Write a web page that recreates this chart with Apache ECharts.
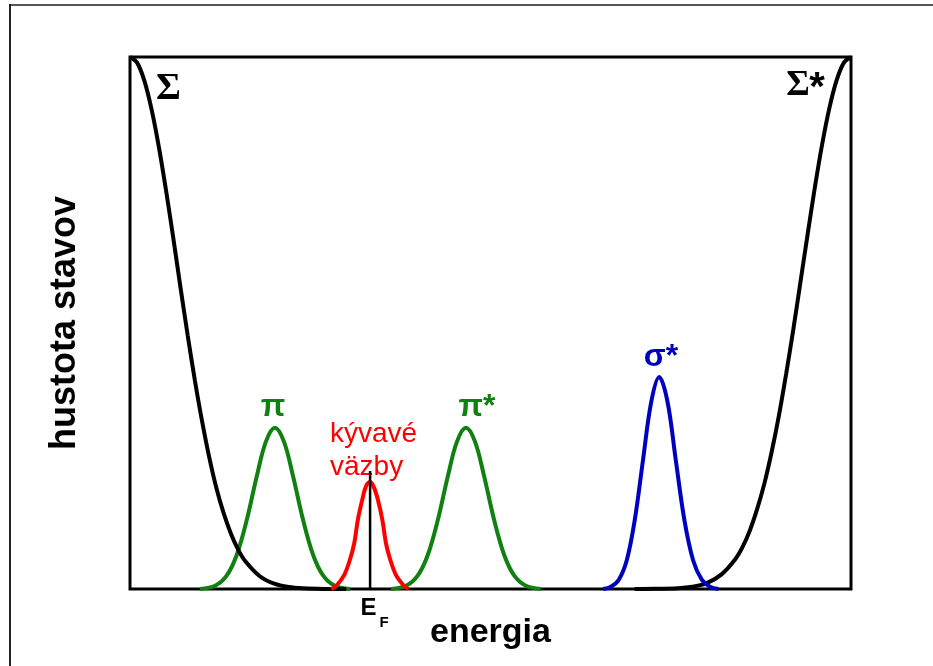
<!DOCTYPE html>
<html>
<head>
<meta charset="utf-8">
<script src="https://cdn.jsdelivr.net/npm/echarts@6/dist/echarts.min.js"></script>
<style>
  html, body { margin: 0; padding: 0; background: #fff; }
  #chart { width: 933px; height: 666px; }
</style>
</head>
<body>
<div id="chart"></div>
<script>
// Energy runs 0..100 (arbitrary units) across the plot, density of states 0..100.

// Σ band (bonding), falls off from the left edge
const sigmaX = [0, 1, 2, 3, 4, 5, 6, 7, 8, 9, 10, 11, 12, 13, 14, 15, 16, 18, 20, 22, 24, 27, 30];
const sigmaY = [100, 98.9, 95.5, 90.1, 83.1, 74.9, 66.0, 56.7, 47.7, 39.2, 31.5, 24.7, 18.9, 14.2, 10.4, 7.4, 5.2, 2.4, 1.0, 0.37, 0.13, 0.02, 0];

// Σ* band (antibonding), rises to the right edge
const sigmaStarX = [70, 73, 76, 78, 80, 82, 84, 85, 86, 87, 88, 89, 90, 91, 92, 93, 94, 95, 96, 97, 98, 99, 100];
const sigmaStarY = [0, 0.03, 0.16, 0.44, 1.1, 2.7, 5.7, 8.0, 11.1, 15.1, 19.9, 25.8, 32.6, 40.4, 48.8, 57.8, 66.8, 75.6, 83.6, 90.4, 95.6, 98.9, 100];

// π band
const piX = [9.7, 11.8, 13.4, 14.8, 16.2, 17.6, 18.85, 20.1, 21.35, 22.6, 24.0, 25.4, 26.8, 28.4, 30.5];
const piY = [0, 0.6, 2.5, 6.4, 13.0, 21.3, 27.7, 30.3, 27.7, 21.3, 13.0, 6.4, 2.5, 0.6, 0];

// π* band
const piStarX = [36.2, 38.3, 39.9, 41.3, 42.7, 44.1, 45.35, 46.6, 47.85, 49.1, 50.5, 51.9, 53.3, 54.9, 57.0];
const piStarY = [0, 0.6, 2.5, 6.4, 13.0, 21.3, 27.7, 30.3, 27.7, 21.3, 13.0, 6.4, 2.5, 0.6, 0];

// dangling bonds at the Fermi level
const danglingX = [27.9, 28.7, 29.7, 30.5, 31.1, 31.6, 32.2, 32.7, 33.3, 33.8, 34.4, 35.0, 35.5, 36.1, 36.9, 37.9, 38.6];
const danglingY = [0, 0.75, 2.6, 5.5, 8.6, 13.0, 16.7, 19.2, 20.1, 19.2, 16.7, 13.0, 8.6, 5.5, 2.6, 0.75, 0];

// σ* band
const sigmaAntiX = [65.6, 66.7, 67.8, 68.9, 70.0, 71.15, 72.3, 73.4, 74.55, 75.7, 76.9, 78.1, 79.3, 80.45, 81.6];
const sigmaAntiY = [0, 0.44, 1.75, 5.4, 12.9, 24.2, 35.2, 39.85, 35.2, 24.2, 12.9, 5.4, 1.75, 0.44, 0];

// Fermi level marker
const fermiX = 33.3;
const fermiTop = 22.2;

function pairs(xs, ys) { return xs.map((x, i) => [x, ys[i]]); }

const chart = echarts.init(document.getElementById('chart'), null, { renderer: 'canvas' });

function curve(name, xs, ys, color, z) {
  return {
    name: name,
    type: 'line',
    data: pairs(xs, ys),
    smooth: 0.35,
    symbol: 'none',
    clip: false,
    z: z,
    lineStyle: { color: color, width: 4 }
  };
}

chart.setOption({
  animation: false,
  backgroundColor: '#ffffff',
  grid: {
    left: 130, top: 57, right: 82, bottom: 77,
    show: true, borderColor: '#000', borderWidth: 3, backgroundColor: 'transparent'
  },
  xAxis: {
    type: 'value', min: 0, max: 100,
    name: 'energia', nameLocation: 'middle', nameGap: 27,
    nameTextStyle: { fontFamily: 'Liberation Sans', fontWeight: 'bold', fontSize: 34, color: '#000' },
    axisLine: { show: false }, axisTick: { show: false }, axisLabel: { show: false }, splitLine: { show: false }
  },
  yAxis: {
    type: 'value', min: 0, max: 100,
    name: 'hustota stavov', nameLocation: 'middle', nameGap: 47,
    nameTextStyle: { fontFamily: 'Liberation Sans', fontWeight: 'bold', fontSize: 36, color: '#000' },
    axisLine: { show: false }, axisTick: { show: false }, axisLabel: { show: false }, splitLine: { show: false }
  },
  series: [
    curve('Σ', sigmaX, sigmaY, '#000000', 3),
    curve('Σ*', sigmaStarX, sigmaStarY, '#000000', 3),
    curve('π', piX, piY, '#108010', 2),
    curve('π*', piStarX, piStarY, '#108010', 2),
    curve('kývavé väzby', danglingX, danglingY, '#ff0000', 4),
    curve('σ*', sigmaAntiX, sigmaAntiY, '#0000c0', 4),
    {
      name: 'EF', type: 'line', symbol: 'none', z: 5,
      data: [[fermiX, 0], [fermiX, fermiTop]],
      lineStyle: { color: '#000', width: 2.5 }
    }
  ],
  graphic: [
    // outer frame
    { type: 'line', shape: { x1: 9, y1: 5, x2: 933, y2: 5 }, style: { stroke: '#555', lineWidth: 2 } },
    { type: 'line', shape: { x1: 10, y1: 4, x2: 10, y2: 666 }, style: { stroke: '#222', lineWidth: 2 } },
    // band labels
    { type: 'text', x: 168.5, y: 89, style: { text: 'Σ', font: 'bold 38px "Liberation Serif"', fill: '#000', align: 'center', verticalAlign: 'middle' } },
    { type: 'text', x: 798, y: 86, style: { text: 'Σ', font: 'bold 36px "Liberation Serif"', fill: '#000', align: 'center', verticalAlign: 'middle' } },
    { type: 'text', x: 817, y: 89, style: { text: '*', font: 'bold 40px "Liberation Sans"', fill: '#000', align: 'center', verticalAlign: 'middle' } },
    { type: 'text', x: 273, y: 407, style: { text: 'π', font: 'bold 32px "Liberation Sans"', fill: '#108010', align: 'center', verticalAlign: 'middle' } },
    { type: 'text', x: 477, y: 407, style: { text: 'π*', font: 'bold 32px "Liberation Sans"', fill: '#108010', align: 'center', verticalAlign: 'middle' } },
    { type: 'text', x: 661, y: 357, style: { text: 'σ*', font: 'bold 32px "Liberation Sans"', fill: '#0000c0', align: 'center', verticalAlign: 'middle' } },
    { type: 'text', x: 330, y: 420, style: { text: 'kývavé', font: '28px "Liberation Sans"', fill: '#ff0000', align: 'left', verticalAlign: 'alphabetic' } },
    { type: 'text', x: 330, y: 453, style: { text: 'väzby', font: '28px "Liberation Sans"', fill: '#ff0000', align: 'left', verticalAlign: 'alphabetic' } },
    { type: 'text', x: 368.5, y: 608, style: { text: 'E', font: 'bold 24px "Liberation Sans"', fill: '#000', align: 'center', verticalAlign: 'middle' } },
    { type: 'text', x: 384, y: 623, style: { text: 'F', font: 'bold 15px "Liberation Sans"', fill: '#000', align: 'center', verticalAlign: 'middle' } }
  ]
});
</script>
</body>
</html>
